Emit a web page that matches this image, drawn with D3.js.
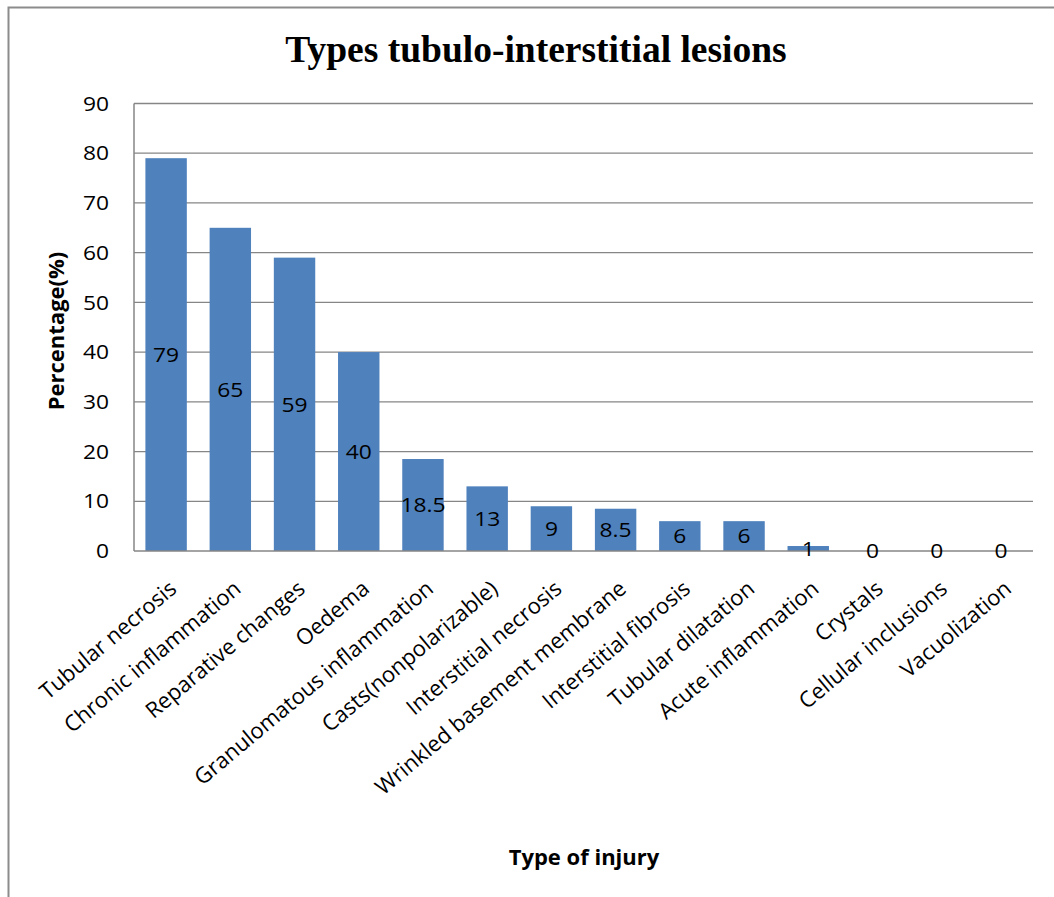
<!DOCTYPE html>
<html>
<head>
<meta charset="utf-8">
<script src="https://cdn.jsdelivr.net/npm/d3@7"></script>
<style>
  html, body { margin: 0; padding: 0; background: #fff; }
  svg { display: block; }
</style>
</head>
<body>
<svg id="chart" width="1054" height="897"></svg>
<script>
// Lesion types and their share of cases (%)
const categories = [
  "Tubular necrosis", "Chronic inflammation", "Reparative changes", "Oedema",
  "Granulomatous inflammation", "Casts(nonpolarizable)", "Interstitial necrosis",
  "Wrinkled basement membrane", "Interstitial fibrosis", "Tubular dilatation",
  "Acute inflammation", "Crystals", "Cellular inclusions", "Vacuolization"
];
const percentages = [79, 65, 59, 40, 18.5, 13, 9, 8.5, 6, 6, 1, 0, 0, 0];
const yTicks = [0, 10, 20, 30, 40, 50, 60, 70, 80, 90];

const chartTitle = "Types tubulo-interstitial lesions";
const xTitle = "Type of injury";
const yTitle = "Percentage(%)";

const svg = d3.select("#chart");
const font = "'Open Sans', 'Noto Sans', sans-serif";
const stretch = 1.14; // slightly wide number glyphs

// outer frame (top and left edges show within the page)
svg.append("rect")
  .attr("x", 8.5).attr("y", 7.5)
  .attr("width", 1100).attr("height", 1000)
  .attr("fill", "none").attr("stroke", "#8c8c8c").attr("stroke-width", 2);

const plot = { left: 134, right: 1033, top: 103.5, bottom: 551 };

const x = d3.scaleBand()
  .domain(categories)
  .range([plot.left, plot.right])
  .paddingInner(0.355)
  .paddingOuter(0.1775);

const y = d3.scaleLinear()
  .domain([0, 90])
  .range([plot.bottom, plot.top]);

// horizontal gridlines
svg.append("g")
  .selectAll("line")
  .data(yTicks.filter(d => d > 0))
  .join("line")
  .attr("x1", plot.left).attr("x2", plot.right)
  .attr("y1", d => y(d)).attr("y2", d => y(d))
  .attr("stroke", "#868686").attr("stroke-width", 1.3);

// bars
svg.append("g")
  .selectAll("rect")
  .data(percentages)
  .join("rect")
  .attr("x", (d, i) => x(categories[i]))
  .attr("width", x.bandwidth())
  .attr("y", d => y(d))
  .attr("height", d => y(0) - y(d))
  .attr("fill", "#4f81bd");

// axes lines
svg.append("line")
  .attr("x1", plot.left).attr("x2", plot.left)
  .attr("y1", plot.top).attr("y2", plot.bottom)
  .attr("stroke", "#868686").attr("stroke-width", 1.5);
svg.append("line")
  .attr("x1", plot.left).attr("x2", plot.right)
  .attr("y1", plot.bottom).attr("y2", plot.bottom)
  .attr("stroke", "#868686").attr("stroke-width", 1.5);

// y tick labels
svg.append("g")
  .selectAll("text")
  .data(yTicks)
  .join("text")
  .attr("transform", d => `translate(109,${y(d)}) scale(${stretch},1)`)
  .attr("dy", "0.36em")
  .attr("text-anchor", "end")
  .attr("font-family", font)
  .attr("font-size", 20)
  .attr("fill", "#000")
  .text(d => d);

// value labels centred in each bar
svg.append("g")
  .selectAll("text")
  .data(percentages)
  .join("text")
  .attr("transform", (d, i) =>
    `translate(${x(categories[i]) + x.bandwidth() / 2},${(y(d) + y(0)) / 2}) scale(${stretch},1)`)
  .attr("dy", "0.36em")
  .attr("text-anchor", "middle")
  .attr("font-family", font)
  .attr("font-size", 20)
  .attr("fill", "#000")
  .text(d => d);

// category labels, rotated
svg.append("g")
  .selectAll("text")
  .data(categories)
  .join("text")
  .attr("transform", d => `translate(${x(d) + x.bandwidth() / 2 + 12},${plot.bottom + 40}) rotate(-40)`)
  .attr("text-anchor", "end")
  .attr("font-family", font)
  .attr("font-size", 22)
  .attr("fill", "#000")
  .text(d => d);

// title
svg.append("text")
  .attr("x", 536).attr("y", 62)
  .attr("text-anchor", "middle")
  .attr("font-family", "'Liberation Serif', 'Times New Roman', serif")
  .attr("font-weight", "bold")
  .attr("font-size", 37.5)
  .attr("fill", "#000")
  .text(chartTitle);

// axis titles
svg.append("text")
  .attr("x", 584).attr("y", 865)
  .attr("text-anchor", "middle")
  .attr("font-family", font)
  .attr("font-weight", "bold")
  .attr("font-size", 22)
  .attr("fill", "#000")
  .text(xTitle);

svg.append("text")
  .attr("transform", "translate(64,331) rotate(-90)")
  .attr("text-anchor", "middle")
  .attr("font-family", font)
  .attr("font-weight", "bold")
  .attr("font-size", 22)
  .attr("fill", "#000")
  .text(yTitle);
</script>
</body>
</html>
